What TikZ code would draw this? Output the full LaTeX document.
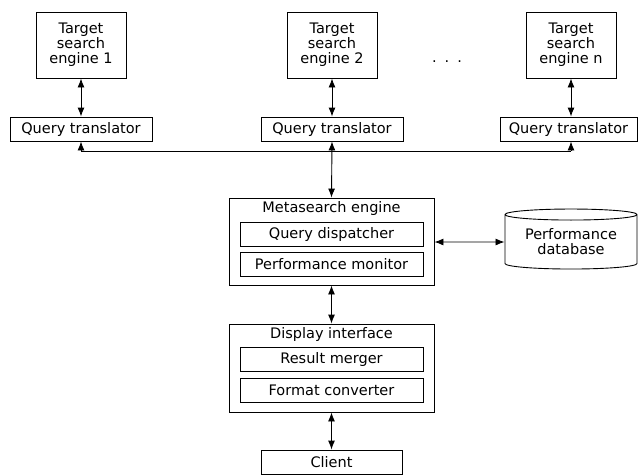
\documentclass[tikz,border=0pt]{standalone}
\usepackage{fontspec}
\setmainfont{DejaVu Sans}
\usetikzlibrary{arrows.meta,shapes.geometric}

\begin{document}
\begin{tikzpicture}[x=1pt, y=-1pt, line width=0.9pt, >={Latex[length=9pt,width=7pt]},
  every node/.style={font=\fontsize{14.5}{15}\selectfont, align=center, inner sep=0pt},
  box/.style={draw, minimum width=#1, minimum height=24pt},
  engine/.style={draw, minimum width=90pt, minimum height=66pt},
  group/.style={draw, minimum width=205pt, minimum height=87pt},
  link/.style={<->}]
  \useasboundingbox (0,0) rectangle (638,475);
  % target search engines
  \node[engine] (tse1) at (81,45)  {Target\\search\\engine 1};
  \node[engine] (tse2) at (332,45) {Target\\search\\engine 2};
  \node[engine] (tsen) at (571,45) {Target\\search\\engine n};
  \node (dots) at (447,62) {.\hspace{8pt}.\hspace{8pt}.};
  % translators
  \node[box=142pt] (qt1) at (81,129)  {Query translator};
  \node[box=142pt] (qt2) at (332,129) {Query translator};
  \node[box=137pt] (qtn) at (568.5,129) {Query translator};
  \draw[link] (tse1) -- (qt1);
  \draw[link] (tse2) -- (qt2.north);
  \draw[link] (tsen.south) -- (tsen.south |- qtn.north);
  % metasearch engine
  \node[group] (meta) at (331.5,241.5) {};
  \node[anchor=north] (metatitle) at ([yshift=-3pt]meta.north) {Metasearch engine};
  \node[box=183pt] (disp) at (331.5,234) {Query dispatcher};
  \node[box=183pt] (mon) at (331.5,264) {Performance monitor};
  \node[draw, cylinder, shape border rotate=90, aspect=0.12,
        minimum width=132pt, minimum height=60pt] (db) at (571,242) {Performance\\database};
  \draw[link] (meta.east |- db.center) -- (db.west);
  % bus to translators
  \coordinate (busl) at (81,151);
  \coordinate (busr) at (571,151);
  \draw[->] (busl) -- (qt1.south);
  \draw[->] (busr) -- (busr |- qtn.south);
  \draw (busl) -- (busr);
  \draw[link] (qt2.south) -- (meta.north);
  % display interface
  \node[group, minimum height=88pt] (disp2) at (331.5,368) {};
  \node[anchor=north] (disptitle) at ([yshift=-3pt]disp2.north) {Display interface};
  \node[box=183pt] (merge) at (331.5,359.5) {Result merger};
  \node[box=183pt] (conv) at (331.5,390) {Format converter};
  \draw[link] (meta.south) -- (disp2.north);
  % client
  \node[box=141pt] (client) at (331.5,462) {Client};
  \draw[link] (disp2.south) -- (client.north);
\end{tikzpicture}
\end{document}
